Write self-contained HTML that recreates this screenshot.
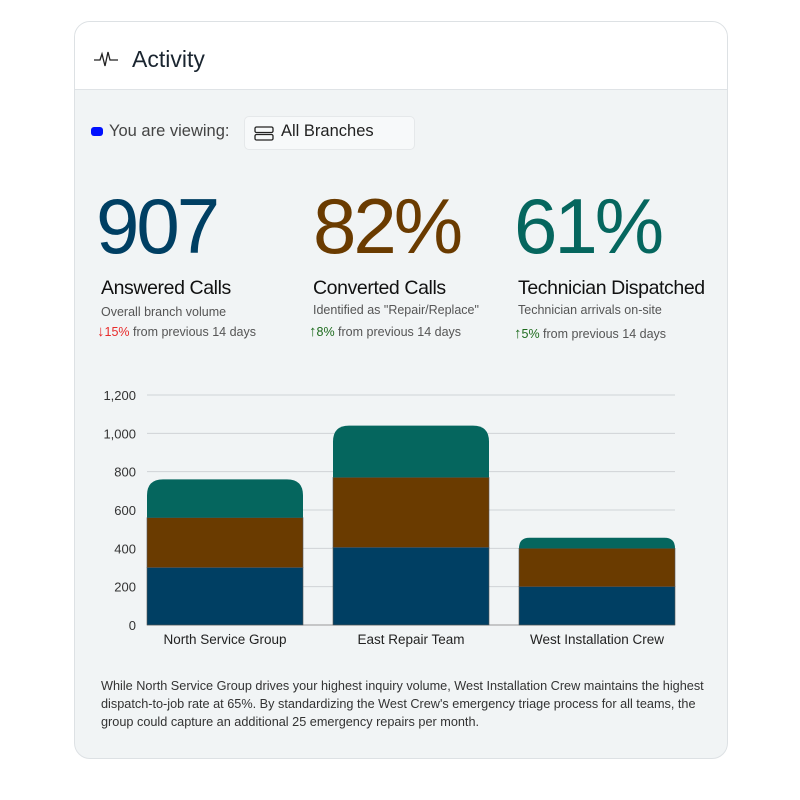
<!DOCTYPE html>
<html><head><meta charset="utf-8"><style>
body{margin:0;width:800px;height:800px;background:#fff;font-family:"Liberation Sans",sans-serif;position:relative;overflow:hidden}
.card{position:absolute;left:74px;top:21px;width:652px;height:736px;border:1px solid #dde1e4;border-radius:16px;background:#f1f4f5;overflow:hidden}
.hdr{position:absolute;left:0;top:0;width:652px;height:67px;background:#fff;border-bottom:1px solid #dfe3e6}
.abs{position:absolute;white-space:nowrap}
.big{font-size:78px;letter-spacing:-3px;line-height:1}
.ttl{font-size:19.5px;color:#111;letter-spacing:-0.4px}
.sub{font-size:12.5px;color:#555}
.chg{font-size:12.5px;color:#555}
.ar{font-size:15px}
</style></head><body>
<div class="card">
 <div class="hdr">
  <svg class="abs" style="left:19px;top:28px" width="24" height="18"><polyline points="0,10 6,10 8,4 11,16 14,2 16,10 24,10" fill="none" stroke="#222" stroke-width="1.3"/></svg>
  <div class="abs" style="left:57px;top:24px;font-size:23px;color:#1a2530">Activity</div>
 </div>
 <div class="abs" style="left:16px;top:105px;width:12px;height:9px;background:#0010ff;border-radius:3px"></div>
 <div class="abs" style="left:34px;top:100px;font-size:16.5px;color:#444">You are viewing:</div>
 <div class="abs" style="left:169px;top:94px;width:169px;height:32px;background:#f7f9fa;border:1px solid #e5e8ea;border-radius:5px">
  <svg class="abs" style="left:9px;top:9px" width="20" height="15"><rect x="1" y="1" width="18" height="5.5" rx="1.5" fill="none" stroke="#222" stroke-width="1.3"/><rect x="1" y="8.5" width="18" height="5.5" rx="1.5" fill="none" stroke="#222" stroke-width="1.3"/></svg>
  <div class="abs" style="left:36px;top:5px;font-size:16.5px;color:#222">All Branches</div>
 </div>
 <div class="abs big" style="left:21px;top:165px;color:#003f63">907</div>
 <div class="abs big" style="left:238px;top:165px;color:#6a3b00">82%</div>
 <div class="abs big" style="left:439px;top:165px;color:#05665e">61%</div>
 <div class="abs ttl" style="left:26px;top:255px">Answered Calls</div>
 <div class="abs sub" style="left:26px;top:283px">Overall branch volume</div>
 <div class="abs chg" style="left:22px;top:301px"><span style="color:#e82a2a"><span class="ar">↓</span>15%</span> from previous 14 days</div>
 <div class="abs ttl" style="left:238px;top:255px">Converted Calls</div>
 <div class="abs sub" style="left:238px;top:281px">Identified as "Repair/Replace"</div>
 <div class="abs chg" style="left:234px;top:301px"><span style="color:#1d6b1d"><span class="ar">↑</span>8%</span> from previous 14 days</div>
 <div class="abs ttl" style="left:443px;top:255px">Technician Dispatched</div>
 <div class="abs sub" style="left:443px;top:281px">Technician arrivals on-site</div>
 <div class="abs chg" style="left:439px;top:303px"><span style="color:#1d6b1d"><span class="ar">↑</span>5%</span> from previous 14 days</div>
 <div class="abs" style="left:26px;top:655px;width:615px;font-size:12.7px;line-height:18px;color:#333;white-space:normal">While North Service Group drives your highest inquiry volume, West Installation Crew maintains the highest dispatch-to-job rate at 65%. By standardizing the West Crew's emergency triage process for all teams, the group could capture an additional 25 emergency repairs per month.</div>
</div>
<svg id="chart" class="abs" style="left:0;top:0" width="800" height="800"></svg>
<script>
const categories=["North Service Group","East Repair Team","West Installation Crew"];
const answered=[300,405,200];
const converted=[260,365,200];
const dispatched=[200,270,55];
const ticks=[0,200,400,600,800,1000,1200];
const tickLabels=["0","200","400","600","800","1,000","1,200"];
const NS="http://www.w3.org/2000/svg",svg=document.getElementById('chart');
const x0=147,x1=675,y0=625,yTop=395,maxV=1200;
const y=v=>y0-(y0-yTop)*v/maxV;
const band=(x1-x0+30)/categories.length,bw=band-30;
const bx=i=>x0+i*band;
function mk(t,a){const e=document.createElementNS(NS,t);for(const k in a)e.setAttribute(k,a[k]);svg.appendChild(e);return e;}
ticks.forEach((t,i)=>{
 const l=mk('line',{x1:x0,x2:x1,y1:y(t),y2:y(t),stroke:t===0?'#999':'#cfd3d6','stroke-width':1});
 
 
 const tx=mk('text',{x:136,y:y(t)+5,'text-anchor':'end','font-size':13,fill:'#333','font-family':'Liberation Sans, sans-serif'});
 tx.textContent=tickLabels[i];
 
 
});
const series=[[answered,'#003f63','answered'],[converted,'#6a3b00','converted'],[dispatched,'#05665e','dispatched']];
categories.forEach((c,i)=>{
 let base=0;
 series.forEach(([arr,col,nm],s)=>{
  const v=arr[i],top=y(base+v),bot=y(base),X=bx(i);
  let el;
  if(s===series.length-1){
   const r=Math.min(16,bot-top);
   el=mk('path',{d:`M${X},${bot}V${top+r}Q${X},${top} ${X+r},${top}H${X+bw-r}Q${X+bw},${top} ${X+bw},${top+r}V${bot}Z`,fill:col});
  } else el=mk('rect',{x:X,y:top,width:bw,height:bot-top,fill:col,stroke:'#555','stroke-width':0.6});
  
  
  base+=v;
 });
 const t=mk('text',{x:bx(i)+bw/2,y:y0+19,'text-anchor':'middle','font-size':13.5,fill:'#222','font-family':'Liberation Sans, sans-serif'});
 t.textContent=c;
 
 
});
</script>
</body></html>
